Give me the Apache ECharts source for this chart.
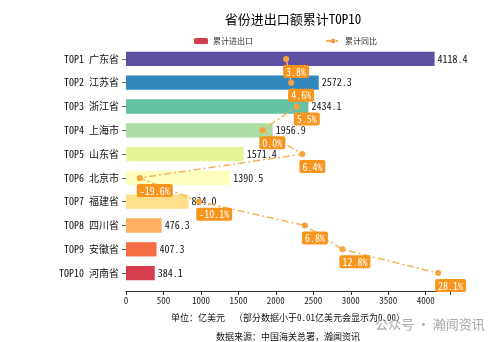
<!DOCTYPE html>
<html><head><meta charset="utf-8">
<script src="https://cdn.jsdelivr.net/npm/echarts@6/dist/echarts.min.js"></script>
<style>html,body{margin:0;padding:0;background:#fff}#c{width:500px;height:342px}</style>
</head><body><div id="c"></div>
<script>
const ranks = ['TOP1','TOP2','TOP3','TOP4','TOP5','TOP6','TOP7','TOP8','TOP9','TOP10'];
const provinces = ['广东省','江苏省','浙江省','上海市','山东省','北京市','福建省','四川省','安徽省','河南省'];
const tradeValues = [4118.4, 2572.3, 2434.1, 1956.9, 1571.4, 1390.5, 834.0, 476.3, 407.3, 384.1];
const growthRates = [3.8, 4.6, 5.5, 0.0, 6.4, -19.6, -10.1, 6.8, 12.8, 28.1];
const xTicks = [0, 500, 1000, 1500, 2000, 2500, 3000, 3500, 4000];
const barColors = ['#5e4fa2','#3288bd','#66c2a5','#abdda4','#e6f598','#ffffbf','#fee08b','#fdae61','#f46d43','#d53e4f'];

const FONT = "'Noto Sans Mono CJK SC','Noto Sans CJK SC','DejaVu Sans Mono',monospace";
const categories = ranks.map((r, i) => r + ' ' + provinces[i]);
const chart = echarts.init(document.getElementById('c'), null, {renderer: 'canvas'});
chart.setOption({
  animation: false,
  textStyle: {fontFamily: FONT},
  title: {
    text: '省份进出口额累计TOP10', left: 288, top: 8, textAlign: 'center',
    textStyle: {fontSize: 13, fontWeight: 'normal', color: '#000', fontFamily: FONT}
  },
  legend: {
    data: ['累计进出口', '累计同比'], top: 32, itemGap: 72,
    itemWidth: 14, itemHeight: 6, left: 189,
    textStyle: {fontSize: 8, color: '#333', fontFamily: FONT}
  },
  grid: {left: 126, right: 50, top: 47, bottom: 57, containLabel: false},
  xAxis: [{
    type: 'value', min: 0, max: 4324, interval: 500, offset: 6,
    axisLine: {show: true, lineStyle: {color: '#333'}},
    axisTick: {show: true, length: 4, lineStyle: {color: '#333'}},
    axisLabel: {fontSize: 9, color: '#222', margin: 5, fontFamily: FONT,
      formatter: v => xTicks.indexOf(v) >= 0 ? String(v) : ''},
    splitLine: {show: false}
  }, {
    type: 'value', min: -21.8, max: 30, show: false, splitLine: {show: false}
  }],
  yAxis: {
    type: 'category', data: categories, inverse: true,
    axisLine: {show: false},
    axisTick: {show: true, alignWithLabel: true, length: 4, lineStyle: {color: '#666'}},
    axisLabel: {fontSize: 10, color: '#111', margin: 7, fontFamily: FONT},
    splitLine: {show: false}
  },
  series: [{
    name: '累计进出口', type: 'bar', xAxisIndex: 0, barWidth: '60%',
    itemStyle: {color: '#d53e4f'},
    data: tradeValues.map((v, i) => ({value: v, itemStyle: {color: barColors[i]}})),
    label: {show: true, position: 'right', distance: 3, fontSize: 10, color: '#111', fontFamily: FONT,
      formatter: p => p.value.toFixed(1)},
    z: 2
  }, {
    name: '累计同比', type: 'line', xAxisIndex: 1, data: growthRates,
    symbol: 'circle', symbolSize: 6,
    itemStyle: {color: '#f5a33a'},
    lineStyle: {color: '#f8b25a', width: 1.5, type: [7, 3, 2, 3]},
    label: {show: true, position: 'bottom', distance: 3, align: 'left', offset: [-3, 0],
      fontSize: 10, color: '#fff', fontFamily: FONT,
      backgroundColor: '#f7951e', borderRadius: 2, padding: [2, 3, 1, 3],
      formatter: p => p.value.toFixed(1) + '%'},
    z: 5
  }],
  graphic: [{
    type: 'text', x: 288, y: 318,
    style: {text: '单位：亿美元  （部分数据小于0.01亿美元会显示为0.00）', font: '9px ' + FONT, fill: '#111', textAlign: 'center', textVerticalAlign: 'middle'}
  }, {
    type: 'text', x: 288, y: 337,
    style: {text: '数据来源：中国海关总署，瀚闻资讯', font: '9px ' + FONT, fill: '#111', textAlign: 'center', textVerticalAlign: 'middle'}
  }, {
    type: 'text', x: 375, y: 324,
    style: {text: '公众号 · 瀚闻资讯', font: "13px 'Noto Sans CJK SC'", fill: '#a8a8a8', textVerticalAlign: 'middle'}
  }]
});
</script></body></html>
